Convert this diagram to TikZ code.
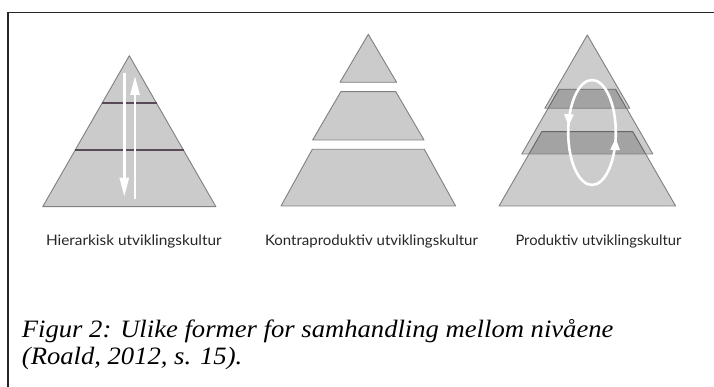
\documentclass[tikz,border=0pt]{standalone}
\usepackage{fontspec}
\usepackage{graphicx}
\setmainfont{Liberation Serif}[ItalicFont={Liberation Serif Italic}]
\newfontfamily\labfont{Lato}
\usetikzlibrary{arrows.meta,decorations.markings}
\definecolor{pyrfill}{RGB}{203,203,203}
\definecolor{pyredge}{RGB}{128,128,128}
\definecolor{lvlcol}{RGB}{88,74,86}
\newcommand{\capscale}{1.065}
\begin{document}
\begin{tikzpicture}[x=1pt,y=-1pt,
  pyr/.style={fill=pyrfill, draw=pyredge, line width=0.9pt, line join=round},
  piece/.style={fill=black, fill opacity=0.2, draw=pyredge, line width=0.9pt, line join=round},
  lvl/.style={draw=lvlcol, line width=2pt},
  warrow/.style={draw=white, line width=2.6pt, -{Triangle[length=19pt,width=9pt,fill=white]}},
  lab/.style={anchor=base, inner sep=0pt, text=black!85, font=\labfont\fontsize{14.5}{17}\selectfont},
  capline/.style={anchor=base west, inner sep=0pt, font=\fontsize{25}{29}\selectfont\itshape},
  frame/.style={line width=1.3pt, draw=black!85}]
\useasboundingbox (0,0) rectangle (714,387);
\fill[white] (0,0) rectangle (714,387);
% frame
\coordinate (fbl) at (8,387);
\coordinate (ftl) at (8,12.7);
\coordinate (ftr) at (714,12.7);
\draw[frame] (fbl) -- (ftl) -- (ftr);

% ---------- pyramid 1 ----------
\coordinate (p1a) at (129.3,55.7);
\coordinate (p1l) at (42.7,206.7);
\coordinate (p1r) at (215.9,206.7);
\draw[pyr] (p1a) -- (p1r) -- (p1l) -- cycle;
\coordinate (l1a) at (102.1,102.7);
\coordinate (l1b) at (156.5,102.7);
\coordinate (l2a) at (74.7,150);
\coordinate (l2b) at (183.9,150);
\draw[lvl] (l1a) -- (l1b);
\draw[lvl] (l2a) -- (l2b);
\coordinate (dns) at (124.3,72.7);
\coordinate (dne) at (124.3,196.7);
\coordinate (ups) at (135,199.3);
\coordinate (upe) at (135,76);
\draw[warrow] (dns) -- (dne);
\draw[warrow] (ups) -- (upe);

% ---------- pyramid 2 ----------
\coordinate (q1a) at (368.3,34.3);
\coordinate (q1r) at (396.6,82.3);
\coordinate (q1l) at (340.0,82.3);
\draw[pyr] (q1a) -- (q1r) -- (q1l) -- cycle;
\coordinate (q2tl) at (340.8,91.7);
\coordinate (q2tr) at (395.8,91.7);
\coordinate (q2br) at (424.0,140);
\coordinate (q2bl) at (312.6,140);
\draw[pyr] (q2tl) -- (q2tr) -- (q2br) -- (q2bl) -- cycle;
\coordinate (q3tl) at (312.3,149.3);
\coordinate (q3tr) at (424.3,149.3);
\coordinate (q3br) at (455.6,206);
\coordinate (q3bl) at (281.0,206);
\draw[pyr] (q3tl) -- (q3tr) -- (q3br) -- (q3bl) -- cycle;

% ---------- pyramid 3 ----------
\coordinate (r3tl) at (541.8,131.7);
\coordinate (r3tr) at (632.8,131.7);
\coordinate (r3br) at (675.6,206);
\coordinate (r3bl) at (499.0,206);
\draw[piece] (r3tl) -- (r3tr) -- (r3br) -- (r3bl) -- cycle;
\coordinate (r2tl) at (559.0,89.3);
\coordinate (r2tr) at (615.6,89.3);
\coordinate (r2br) at (652.8,154);
\coordinate (r2bl) at (521.8,154);
\draw[piece] (r2tl) -- (r2tr) -- (r2br) -- (r2bl) -- cycle;
\coordinate (r1a) at (587.3,35);
\coordinate (r1r) at (629.8,108.3);
\coordinate (r1l) at (544.8,108.3);
\draw[piece] (r1a) -- (r1r) -- (r1l) -- cycle;
\coordinate (ell) at (592,132.5);
\draw[white, line width=2.6pt, postaction={decorate},
  decoration={markings,
    mark=at position 0.475 with {\arrow{Triangle[length=12pt,width=9pt]}},
    mark=at position 0.978 with {\arrow{Triangle[length=12pt,width=9pt]}}}]
  ([xshift=23.8pt]ell) arc[start angle=0, end angle=-360, x radius=23.8, y radius=52.5];

% ---------- labels ----------
\node[lab] (t1) at (133.9,245.7) {\resizebox{175.7pt}{\height}{Hierarkisk utviklingskultur}};
\node[lab] (t2) at (371.5,245.7) {\resizebox{213pt}{\height}{Kontraproduktiv utviklingskultur}};
\node[lab] (t3) at (598.5,245.7) {\resizebox{166pt}{\height}{Produktiv utviklingskultur}};

% ---------- caption ----------
\node[capline] (c1) at (21.7,337) {\scalebox{\capscale}[1]{Figur 2: Ulike former for samhandling mellom nivåene}};
\node[capline] (c2) at (21.7,364) {\scalebox{\capscale}[1]{(Roald, 2012, s. 15).}};
\end{tikzpicture}
\end{document}
